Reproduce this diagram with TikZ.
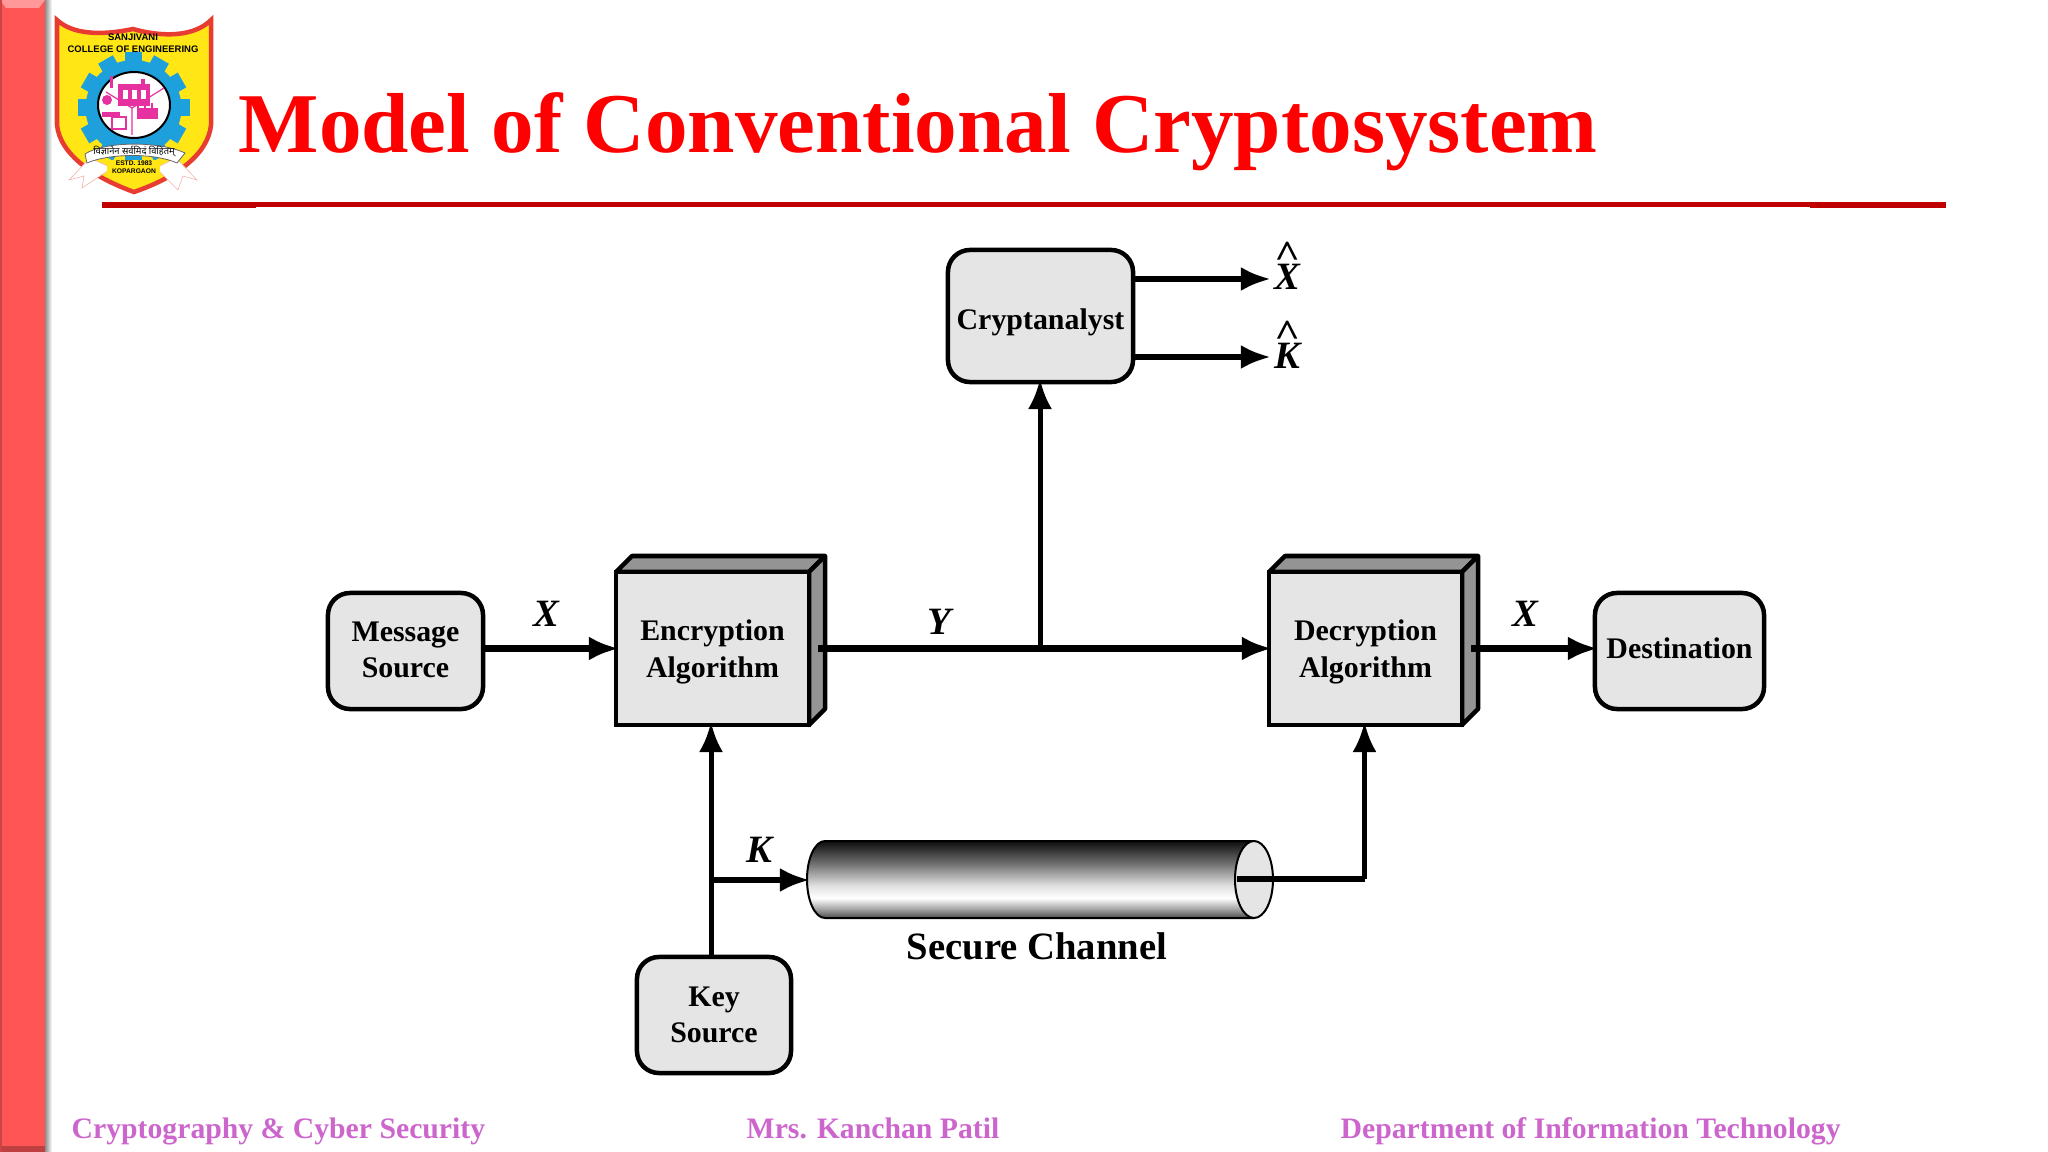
\documentclass[tikz,border=0pt]{standalone}
\usepackage{fontspec}
\setmainfont{Liberation Serif}
\newfontfamily\logofont{Liberation Sans}
\newfontfamily\devafont[Script=Devanagari]{Noto Sans}
\usetikzlibrary{arrows.meta,calc,shapes.geometric}
\definecolor{barred}{RGB}{255,85,85}
\definecolor{rulered}{RGB}{192,0,0}
\definecolor{footpink}{RGB}{204,102,204}
\definecolor{crestred}{RGB}{232,60,50}
\definecolor{crestyellow}{RGB}{255,230,20}
\definecolor{gearblue}{RGB}{30,160,220}
\definecolor{crestpink}{RGB}{230,50,160}
\pgfdeclareverticalshading{tubeshade}{100bp}{color(0bp)=(black!70);color(25bp)=(black!70);color(31bp)=(black!35);color(38bp)=(white);color(46bp)=(black!12);color(60bp)=(black!55);color(75bp)=(black!95);color(100bp)=(black!95)}
\tikzset{
	softbox/.style={draw, line width=0.45mm, fill=black!10, rounded corners=0.22cm, align=center, font=\fontsize{8.5}{10.4}\selectfont\bfseries, inner sep=0pt, outer sep=0pt},
	algobox/.style={draw, line width=0.45mm, fill=black!10, align=center, font=\fontsize{8.5}{10.4}\selectfont\bfseries, minimum width=1.93cm, minimum height=1.53cm, inner sep=0pt, outer sep=0pt},
	sideface/.style={draw, line width=0.45mm, fill=black!42, line join=round},
	flow/.style={line width=0.6mm, -{Latex[length=3mm,width=2.4mm]}, shorten >=-0.03cm},
	upflow/.style={flow, line width=0.5mm},
	varname/.style={font=\fontsize{11}{12}\selectfont\bfseries\itshape, inner sep=0pt},
	footnote/.style={font=\fontsize{8.45}{10}\selectfont\bfseries, text=footpink, inner sep=0pt},
	crestline/.style={fill=crestpink, draw=none},
}
\newcommand{\hatted}[1]{\shortstack[c]{\scalebox{1.15}[1.0]{\textasciicircum}\\[-0.8ex]#1}}
\newcommand{\pushdown}[1]{\rule{0pt}{#1}}
\newcommand{\pushup}[1]{\rule[-#1]{0pt}{0pt}}
\begin{document}
\begin{tikzpicture}[x=0.01cm, y=-0.01cm]
	\useasboundingbox (0, 0) rectangle (2048, 1152);

	%%%%% SLIDE %%%%%
	\shade[left color=black!45, right color=white] (45, 0) rectangle (52, 1152);
	\fill[barred] (0, 0) rectangle (45, 1152);
	\fill[barred!60!white] (0, 0) -- (45, 0) -- (39, 8) -- (6, 8) -- cycle;
	\fill[barred!75!black] (0, 1146) rectangle (45, 1152);
	\fill[barred!80!black] (0, 0) rectangle (2, 1152);

	\node[font=\fontsize{24.2}{28}\selectfont\bfseries, text=red, anchor=base west, inner sep=0pt] (title) at (238, 153) {Model of Conventional Cryptosystem};
	\fill[rulered] (102, 202) rectangle (256, 208);
	\fill[rulered] (256, 202.5) rectangle (1810, 207);
	\fill[rulered] (1810, 202) rectangle (1946, 208);

	\node[footnote, anchor=base west] (footleft) at (71, 1138) {Cryptography \& Cyber Security};
	\node[footnote, anchor=base west] (footmid) at (746, 1138) {Mrs. Kanchan Patil};
	\node[footnote, anchor=base west] (footright) at (1340, 1138) {Department of Information Technology};

	%%%%% CREST %%%%%
	\draw[line width=0.45mm, draw=crestred, fill=crestyellow] (57, 20) .. controls (72, 34) and (100, 36) .. (133, 29) .. controls (165, 38) and (195, 36) .. (211, 20) -- (211, 125) .. controls (208, 155) and (175, 178) .. (134, 192) .. controls (95, 178) and (60, 155) .. (57, 125) -- cycle;
	\foreach \ang in {0,30,...,330}
		\fill[gearblue, rotate around={\ang:(133.5, 108)}] (125, 52) rectangle (142, 75);
	\fill[gearblue] (133.5, 108) circle (48);
	\draw[line width=0.2mm, fill=white] (134, 105) ellipse (36 and 33);
	\fill[crestline] (118, 84) rectangle (150, 106);
	\fill[white] (123, 90) rectangle (128, 99);
	\fill[white] (132, 90) rectangle (137, 99);
	\fill[white] (141, 90) rectangle (146, 99);
	\fill[crestline] (110, 88) rectangle (113, 76);
	\fill[crestline] (141, 79) rectangle (145, 90);
	\draw[line width=0.12mm, draw=crestpink] (132, 135) -- (132, 108) -- (106, 92);
	\draw[line width=0.12mm, draw=crestpink] (132, 108) -- (164, 88);
	\fill[crestline] (137, 108) rectangle (158, 118);
	\draw[line width=0.12mm, draw=crestpink] (137, 118) -- (158, 118) (138, 108) -- (138, 103) (145, 108) -- (145, 103) (152, 108) -- (152, 103);
	\fill[crestline] (107, 100) circle (5);
	\fill[crestline] (102, 112) rectangle (120, 117);
	\draw[line width=0.12mm, draw=crestpink] (112, 117) rectangle (126, 129);
	\filldraw[fill=white, draw=crestred!40, line width=0.06mm] (90, 158) -- (69, 180) -- (84, 176) -- (82, 188) -- (112, 168) -- cycle;
	\filldraw[fill=white, draw=crestred!40, line width=0.06mm] (176, 158) -- (197, 180) -- (183, 176) -- (178, 190) -- (156, 168) -- cycle;
	\fill[crestyellow] (107, 160) -- (160, 160) -- (160, 173) -- (107, 173) -- cycle;
	\filldraw[fill=white, draw=black!60, line width=0.08mm] (85, 154) .. controls (105, 141) and (160, 141) .. (185, 153) -- (177, 163) .. controls (155, 153) and (110, 153) .. (87, 163) -- cycle;
	\node[font=\logofont\fontsize{2.7}{3.3}\selectfont\bfseries, align=center, inner sep=0pt] (crestname) at (133, 43) {SANJIVANI\\COLLEGE OF ENGINEERING};
	\node[font=\devafont\fontsize{2.65}{3.3}\selectfont, inner sep=0pt] (crestmotto) at (134, 152) {विज्ञानेन सर्वमिदं विहितम्};
	\node[font=\logofont\fontsize{1.9}{2.4}\selectfont\bfseries, align=center, inner sep=0pt] (creststd) at (134, 167) {ESTD. 1983\\KOPARGAON};

	%%%%% DIAGRAM %%%%%
	\draw[sideface] (616, 572) -- (632, 556) -- (825, 556) -- (809, 572) -- cycle;
	\draw[sideface] (809, 572) -- (825, 556) -- (825, 709) -- (809, 725) -- cycle;
	\node[algobox] (enc) at (712.5, 648.5) {\pushdown{7.9pt}Encryption\\Algorithm};

	\draw[sideface] (1269, 572) -- (1285, 556) -- (1478, 556) -- (1462, 572) -- cycle;
	\draw[sideface] (1462, 572) -- (1478, 556) -- (1478, 709) -- (1462, 725) -- cycle;
	\node[algobox] (dec) at (1365.5, 648.5) {\pushdown{7.9pt}Decryption\\Algorithm};

	\node[softbox, minimum width=1.55cm, minimum height=1.16cm] (msg) at (405.5, 651) {Message\\Source\pushup{0.75pt}};
	\node[softbox, minimum width=1.69cm, minimum height=1.16cm] (dest) at (1679.5, 651) {Destination\pushup{1.5pt}};
	\node[softbox, minimum width=1.85cm, minimum height=1.32cm] (crypt) at (1040.5, 316) {\pushdown{9.3pt}Cryptanalyst};
	\node[softbox, minimum width=1.54cm, minimum height=1.16cm] (keysrc) at (714, 1015) {Key\\Source};

	%% secure channel
	\shade[shading=tubeshade] (825, 841) -- (1254, 841) arc (-90:90:19 and 38.5) -- (825, 918) arc (90:270:18 and 38.5) -- cycle;
	\draw[line width=0.2mm] (1254, 841) -- (825, 841) arc (270:90:18 and 38.5) -- (1254, 918);
	\draw[line width=0.2mm, fill=black!10] (1254, 879.5) ellipse (19 and 38.5);
	\node[font=\fontsize{11}{13}\selectfont\bfseries, inner sep=0pt] (chan) at (1037, 946) {Secure Channel};

	\coordinate (msgout) at (msg.east |- enc.west);
	\coordinate (encout) at (818, 648.5);
	\coordinate (decout) at (1471, 648.5);
	\coordinate (tap) at (1040, 648.5);
	\coordinate (keybr) at (711, 880);
	\coordinate (chanin) at (807, 880);
	\coordinate (chanout) at (1237, 879);
	\coordinate (chanup) at (1364.5, 879);
	\coordinate (xhat) at (1268, 279);
	\coordinate (khat) at (1268, 357);

	\draw[flow] (msgout) -- (enc.west);
	\draw[flow] (encout) -- (dec.west);
	\draw[flow] (decout) -- (dest.west |- dec.west);
	\draw[upflow] (tap) -- (tap |- crypt.south);
	\draw[flow] (crypt.east |- xhat) -- (xhat);
	\draw[flow] (crypt.east |- khat) -- (khat);
	\draw[upflow] (keybr |- keysrc.north) -- (keybr |- enc.south);
	\draw[flow] (keybr) -- (chanin);
	\draw[line width=0.6mm] (chanout) -- (chanup);
	\draw[upflow] (chanup) -- (chanup |- dec.south);

	\node[varname] (lblx) at (546, 614) {X};
	\node[varname] (lbly) at (939, 622) {Y};
	\node[varname] (lblk) at (759, 850) {K};
	\node[varname] (lblxx) at (1525, 614) {X};
	\node[varname, anchor=south] (lblxhat) at (1287, 290) {\hatted{X}};
	\node[varname, anchor=south] (lblkhat) at (1287, 369) {\hatted{K}};
\end{tikzpicture}
\end{document}
